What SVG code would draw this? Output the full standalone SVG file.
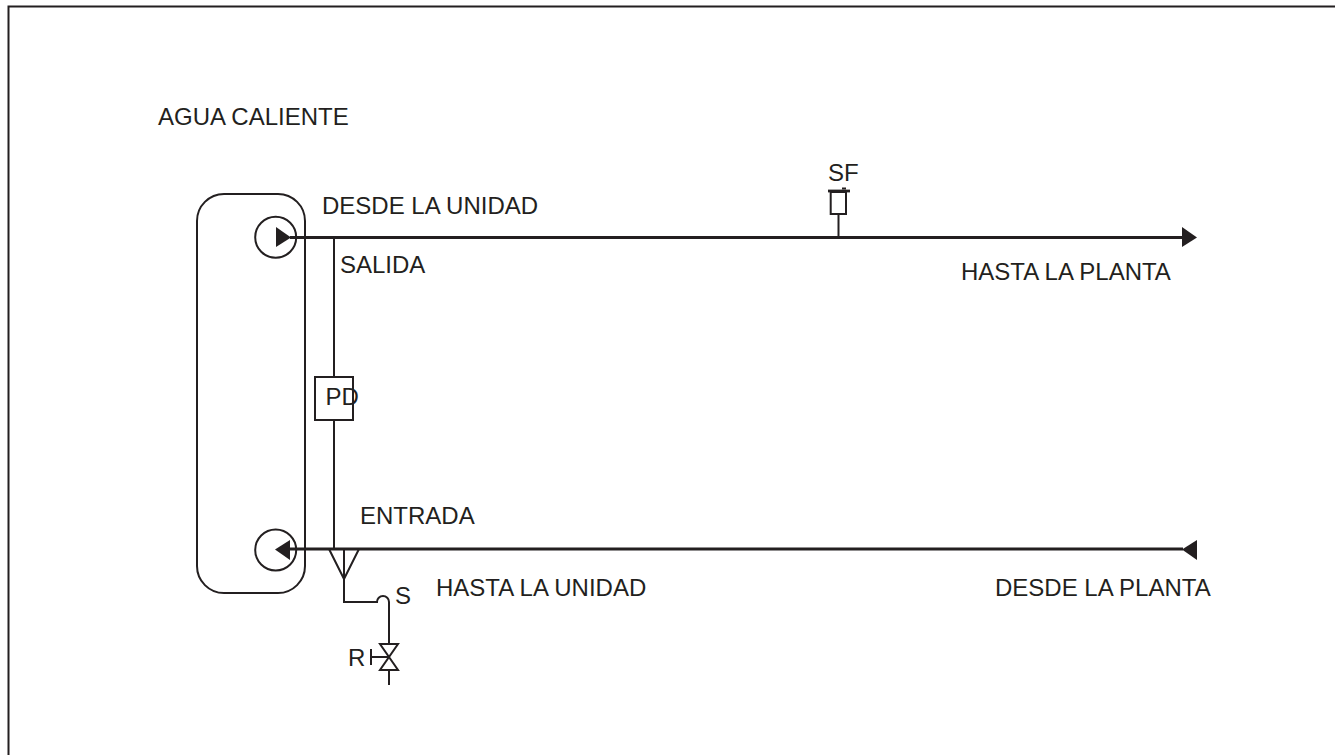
<svg xmlns="http://www.w3.org/2000/svg" width="1335" height="755" viewBox="0 0 1335 755">
<style>
.l{fill:none;stroke:#231f20;stroke-width:2}
.p{fill:none;stroke:#231f20;stroke-width:2.800}
.a{fill:#231f20;stroke:none}
text{font-family:"Liberation Sans",Arial,sans-serif;font-size:24px;fill:#231f20}
</style>
<rect width="1335" height="755" fill="#fff"/>
<path id="frame" class="l" d="M8.500 755V6.500H1335"/>
<text x="158" y="125">AGUA CALIENTE</text>
<g id="unit"><rect class="l" x="197" y="194" width="108" height="399" rx="27" ry="27"/></g>
<g id="connectors">
<path class="p" d="M290 237.500H1183"/>
<path class="p" d="M290 549H1183"/>
<path class="l" d="M334 238V377M334 420V548"/>
<path class="l" d="M344 549V602H377A6 6 0 0 1 389 602V644"/>
<path class="l" d="M389 670V685"/>
<path class="l" d="M838.500 214V237"/>
</g>
<g id="port-out"><circle class="l" cx="275.700" cy="237.300" r="20.500"/><path class="a" d="M276 227L291 237.500L276 247Z"/></g>
<g id="port-in"><circle class="l" cx="275.700" cy="550" r="20.500"/><path class="a" d="M275 549.500L290 540V560Z"/></g>
<g id="arrow-out"><path class="a" d="M1182 227L1197 237.500L1182 247Z"/></g>
<g id="arrow-in"><path class="a" d="M1182 549.500L1197 540V560Z"/></g>
<g id="pd"><rect class="l" x="315" y="377" width="38" height="43"/><text x="325.500" y="405">PD</text></g>
<g id="sf"><text x="828" y="181">SF</text><rect class="l" x="830.700" y="192" width="15.300" height="22"/><path class="p" d="M828 191H850"/><path class="l" d="M842 188.500H846"/></g>
<g id="strainer"><path class="l" d="M329 549L344 579L359 549"/></g>
<g id="s"><text x="395" y="604">S</text></g>
<g id="valve"><path class="l" d="M380 644H398L380 670H398Z"/><path class="l" d="M371 657H389M371 649V665"/><text x="348" y="666">R</text></g>
<text x="322" y="214">DESDE LA UNIDAD</text>
<text x="340" y="273">SALIDA</text>
<text x="961" y="280">HASTA LA PLANTA</text>
<text x="360" y="524">ENTRADA</text>
<text x="436" y="596">HASTA LA UNIDAD</text>
<text x="995" y="596">DESDE LA PLANTA</text>
</svg>
